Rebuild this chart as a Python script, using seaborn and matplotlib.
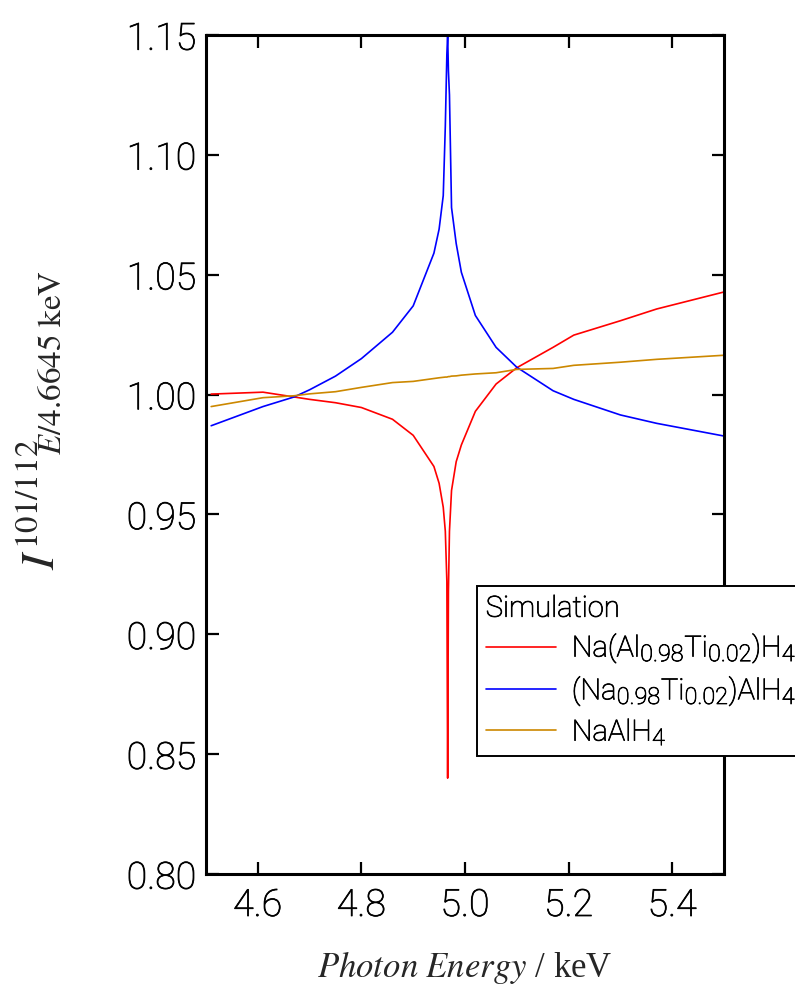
import matplotlib
matplotlib.use("Agg")
import matplotlib.pyplot as plt
import matplotlib._mathtext as mathtext_core
import matplotlib.patheffects as pe
from matplotlib.ticker import FormatStrFormatter
import pandas as pd
import seaborn as sns

# Photon energy grid (keV), dense around the Ti K-edge
energy = [4.51, 4.61, 4.67, 4.70, 4.75, 4.80, 4.86, 4.90, 4.94, 4.95, 4.958,
          4.962, 4.965, 4.9665, 4.968, 4.970, 4.974, 4.983, 4.993, 5.02,
          5.06, 5.10, 5.17, 5.21, 5.30, 5.37, 5.50]

# Intensity ratio I(101)/I(112) normalised at 4.6645 keV
ratio_al_ti = [1.0002, 1.001, 0.999, 0.998, 0.9966, 0.9946, 0.9897, 0.983,
               0.970, 0.963, 0.953, 0.943, 0.922, 0.840, 0.918, 0.943, 0.960,
               0.972, 0.979, 0.993, 1.0044, 1.0112, 1.0197, 1.0248, 1.0308,
               1.0357, 1.0428]
ratio_na_ti = [0.987, 0.995, 0.999, 1.002, 1.0077, 1.015, 1.026, 1.037,
               1.059, 1.069, 1.083, 1.112, 1.142, 1.150, 1.135, 1.125, 1.078,
               1.063, 1.051, 1.033, 1.0197, 1.0114, 1.0016, 0.998, 0.9915,
               0.988, 0.9827]
ratio_pure = [0.995, 0.9987, 0.9995, 1.0003, 1.0012, 1.003, 1.005, 1.0055,
              1.0067, 1.0070, 1.0072, 1.0073, 1.0073, 1.0074, 1.0075, 1.0075,
              1.0077, 1.0078, 1.0081, 1.0086, 1.0091, 1.0105, 1.0109, 1.0122,
              1.0135, 1.0147, 1.0164]

series_labels = [r"Na(Al$_{0.98}$Ti$_{0.02}$)H$_4$",
                 r"(Na$_{0.98}$Ti$_{0.02}$)AlH$_4$",
                 r"NaAlH$_4$"]
series_colors = ["#ff0000", "#0000ff", "#cc8800"]

x_ticks = [4.6, 4.8, 5.0, 5.2, 5.4]
y_ticks = [0.80, 0.85, 0.90, 0.95, 1.00, 1.05, 1.10, 1.15]

sns.set_theme(style="white")
plt.rcParams["font.family"] = ["Roboto", "DejaVu Sans"]
plt.rcParams["font.weight"] = "light"
plt.rcParams["text.color"] = "black"
plt.rcParams["mathtext.fontset"] = "custom"
plt.rcParams["mathtext.rm"] = "Roboto:light"
plt.rcParams["mathtext.it"] = "Roboto:italic:light"
plt.rcParams["mathtext.bf"] = "Roboto:bold"

# slight stroke so the light sans text reads a little heavier
text_stroke = [pe.withStroke(linewidth=0.55, foreground="black")]

df = pd.DataFrame({
    "energy": energy * 3,
    "ratio": ratio_al_ti + ratio_na_ti + ratio_pure,
    "sample": sum([[lab] * len(energy) for lab in series_labels], []),
})

fig = plt.figure(figsize=(7.95, 9.85), dpi=100)
ax = fig.add_axes([206 / 795, 1 - 874 / 985, (724 - 206) / 795, (874 - 35) / 985])

sns.lineplot(data=df, x="energy", y="ratio", hue="sample",
             hue_order=series_labels, palette=series_colors,
             linewidth=1.2, ax=ax, legend=False, sort=False)

ax.set_xlim(4.5, 5.5)
ax.set_ylim(0.80, 1.15)
ax.set_xticks(x_ticks)
ax.set_yticks(y_ticks)
ax.xaxis.set_major_formatter(FormatStrFormatter("%.1f"))
ax.yaxis.set_major_formatter(FormatStrFormatter("%.2f"))

for side in ["left", "right", "top", "bottom"]:
    ax.spines[side].set_visible(True)
    ax.spines[side].set_color("black")
    ax.spines[side].set_linewidth(2.2)

ax.tick_params(axis="both", which="major", direction="in", length=9,
               width=1.6, color="black", labelsize=27, labelcolor="black",
               top=True, right=True, bottom=True, left=True)
ax.tick_params(axis="x", pad=9)
ax.tick_params(axis="y", pad=7)
for lbl in ax.get_xticklabels() + ax.get_yticklabels():
    lbl.set_path_effects(text_stroke)

ax.set_xlabel(r"$\mathit{Photon\ Energy}$ / keV", fontsize=25,
              family="Liberation Serif", math_fontfamily="stix", labelpad=18)
ax.set_ylabel(r"$I^{\mathrm{101/112}}\!\!\!{}_{E\mathrm{/4.6645\ keV}}$",
              fontsize=34, math_fontfamily="stix")
ax.yaxis.set_label_coords(-0.275, 0.541)

# lay out the axis labels with the standard script size first
fig.canvas.draw()

# chemical formula subscripts in the legend use a larger script size
mathtext_core.SHRINK_FACTOR = 0.8

handles = ax.get_lines()[:3]
leg = ax.legend(handles, series_labels, title="Simulation",
                loc="upper left",
                bbox_to_anchor=(477 / 795, 1 - 586 / 985),
                bbox_transform=fig.transFigure,
                fontsize=21, title_fontsize=21,
                frameon=True, fancybox=False,
                handlelength=2.4, handletextpad=0.55, labelspacing=0.28,
                borderpad=0.3, borderaxespad=0)
leg._legend_box.align = "left"
leg.get_frame().set_edgecolor("black")
leg.get_frame().set_linewidth(1.4)
leg.get_frame().set_alpha(1)
for txt in leg.get_texts() + [leg.get_title()]:
    txt.set_path_effects(text_stroke)

fig.savefig("out.png", dpi=100)
